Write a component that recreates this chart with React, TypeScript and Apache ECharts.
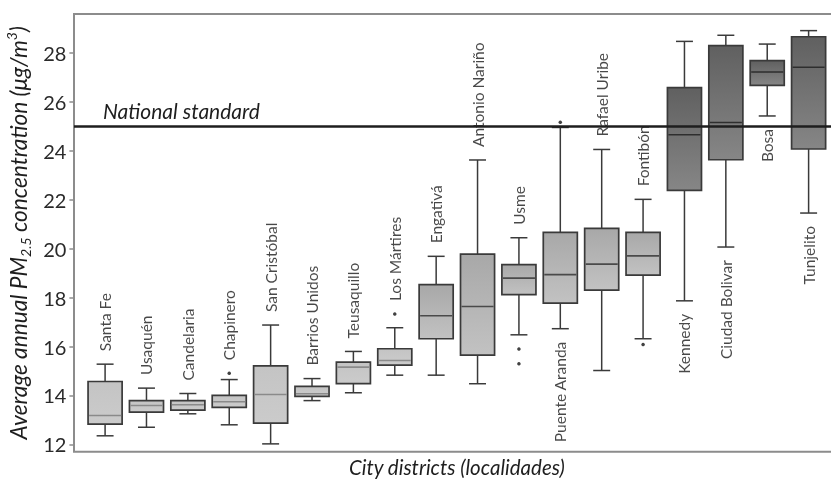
import React, { useEffect, useRef } from "react";
import * as echarts from "echarts";

const CATEGORIES = [
  "Santa Fe", "Usaquén", "Candelaria", "Chapinero", "San Cristóbal", "Barrios Unidos",
  "Teusaquillo", "Los Mártires", "Engativá", "Antonio Nariño", "Usme", "Puente Aranda",
  "Rafael Uribe", "Fontibón", "Kennedy", "Ciudad Bolivar", "Bosa", "Tunjelito",
];
const LOW = [12.35, 12.7, 13.25, 12.8, 12.02, 13.79, 14.11, 14.83, 14.83, 14.48, 16.48, 16.73, 15.02, 16.32, 17.87, 20.07, 25.43, 21.46];
const Q1 = [12.83, 13.32, 13.4, 13.51, 12.87, 13.96, 14.48, 15.24, 16.32, 15.65, 18.12, 17.78, 18.31, 18.92, 22.39, 23.64, 26.68, 24.08];
const MEDIAN = [13.18, 13.59, 13.62, 13.74, 14.04, 14.07, 15.16, 15.43, 17.26, 17.64, 18.8, 18.94, 19.37, 19.71, 24.66, 25.16, 27.23, 27.42];
const Q3 = [14.57, 13.79, 13.79, 14.0, 15.21, 14.37, 15.36, 15.91, 18.53, 19.78, 19.35, 20.67, 20.83, 20.67, 26.59, 28.31, 27.69, 28.67];
const HIGH = [15.28, 14.3, 14.08, 14.65, 16.88, 14.69, 15.8, 16.77, 19.69, 23.63, 20.45, 24.96, 24.06, 22.02, 28.48, 28.73, 28.37, 28.92];
const OUTLIER_CATEGORY = [3, 7, 10, 10, 11, 13];
const OUTLIER_VALUE = [14.91, 17.33, 15.9, 15.3, 25.17, 16.08];
const LABEL_BELOW = ["Puente Aranda", "Kennedy", "Ciudad Bolivar", "Bosa", "Tunjelito"];
const Y_TICKS = [12, 14, 16, 18, 20, 22, 24, 26, 28];
const NATIONAL_STANDARD = 25;

const FONT = "Lato, 'Open Sans', sans-serif";

export default function App() {
  const ref = useRef<HTMLDivElement>(null);

  useEffect(() => {
    if (!ref.current) return;
    const chart = echarts.init(ref.current, null, { renderer: "svg" });

    const tones = [
      { top: "#c4c4c4", bottom: "#cbcbcb", median: "#8a8a8a" },
      { top: "#a8a8a8", bottom: "#c2c2c2", median: "#4a4a4a" },
      { top: "#606060", bottom: "#868686", median: "#2e2e2e" },
    ];
    const toneOf = (i: number) => (i < 8 ? 0 : i < 14 ? 1 : 2);

    const boxData = CATEGORIES.map((_, i) => [i, LOW[i], Q1[i], MEDIAN[i], Q3[i], HIGH[i]]);
    const outlierData = OUTLIER_CATEGORY.map((c, k) => [c, OUTLIER_VALUE[k]]);
    const labelData = CATEGORIES.map((name, i) => {
      const below = LABEL_BELOW.includes(name);
      if (below) {
        return {
          value: [i, LOW[i]],
          name,
          label: { position: "bottom", align: "right" },
        };
      }
      let top = HIGH[i];
      OUTLIER_CATEGORY.forEach((c, k) => {
        if (c === i && OUTLIER_VALUE[k] > top) top = OUTLIER_VALUE[k];
      });
      return { value: [i, top], name, label: { position: "top", align: "left" } };
    });

    const stroke = "#3a3a3a";

    chart.setOption({
      animation: false,
      grid: {
        left: 84.4,
        right: 1.7,
        top: 14,
        bottom: 29.3,
        containLabel: false,
        outerBoundsMode: "none",
      },
      xAxis: {
        type: "category",
        data: CATEGORIES,
        boundaryGap: true,
        axisLine: { show: false },
        axisTick: { show: false },
        axisLabel: { show: false },
        splitLine: { show: false },
        name: "City districts (localidades)",
        nameLocation: "middle",
        nameGap: 5,
        nameTextStyle: {
          fontFamily: FONT,
          fontStyle: "italic",
          fontSize: 20.5,
          lineHeight: 21,
          color: "#1e1e1e",
        },
      },
      yAxis: {
        type: "value",
        min: 11.7,
        max: 29.6,
        offset: 10,
        axisLine: { show: false },
        splitLine: { show: false },
        axisTick: {
          show: true,
          length: 5,
          customValues: Y_TICKS,
          lineStyle: { color: "#8c8c8c", width: 1.5 },
        },
        axisLabel: {
          customValues: Y_TICKS,
          fontFamily: FONT,
          fontSize: 20,
          color: "#2a2a2a",
          margin: 8,
        },
        name:
          "{a|Average annual PM}{sub|2.5}{a| concentration (μg/m}{sup|3}{a|)}",
        nameLocation: "middle",
        nameGap: 35,
        nameTextStyle: {
          rich: {
            a: { fontFamily: FONT, fontStyle: "italic", fontSize: 22.7, color: "#1e1e1e", lineHeight: 28 },
            sub: { fontFamily: FONT, fontStyle: "italic", fontSize: 14, color: "#1e1e1e", lineHeight: 13, verticalAlign: "bottom" },
            sup: { fontFamily: FONT, fontStyle: "italic", fontSize: 14, color: "#1e1e1e", lineHeight: 13, verticalAlign: "top" },
          },
        },
      },
      series: [
        {
          type: "custom",
          data: boxData,
          encode: { x: 0, y: [1, 2, 3, 4, 5] },
          z: 2,
          renderItem: (params: any, api: any) => {
            const i = api.value(0);
            const tone = tones[toneOf(i)];
            const pLow = api.coord([i, api.value(1)]);
            const pQ1 = api.coord([i, api.value(2)]);
            const pMed = api.coord([i, api.value(3)]);
            const pQ3 = api.coord([i, api.value(4)]);
            const pHigh = api.coord([i, api.value(5)]);
            const band = api.size([1, 0])[0];
            const bw = band * 0.823;
            const cap = band * 0.41;
            const x = pMed[0];
            const ls = { stroke, lineWidth: 1.5, fill: "none" };
            return {
              type: "group",
              children: [
                { type: "line", shape: { x1: x, y1: pHigh[1], x2: x, y2: pQ3[1] }, style: ls },
                { type: "line", shape: { x1: x, y1: pQ1[1], x2: x, y2: pLow[1] }, style: ls },
                { type: "line", shape: { x1: x - cap / 2, y1: pHigh[1], x2: x + cap / 2, y2: pHigh[1] }, style: ls },
                { type: "line", shape: { x1: x - cap / 2, y1: pLow[1], x2: x + cap / 2, y2: pLow[1] }, style: ls },
                {
                  type: "rect",
                  shape: { x: x - bw / 2, y: pQ3[1], width: bw, height: pQ1[1] - pQ3[1] },
                  style: {
                    fill: new echarts.graphic.LinearGradient(0, 0, 0, 1, [
                      { offset: 0, color: tone.top },
                      { offset: 1, color: tone.bottom },
                    ]),
                    stroke,
                    lineWidth: 1.7,
                  },
                },
                {
                  type: "line",
                  shape: { x1: x - bw / 2 + 1, y1: pMed[1], x2: x + bw / 2 - 1, y2: pMed[1] },
                  style: { stroke: tone.median, lineWidth: 1.6 },
                },
              ],
            };
          },
        },
        {
          type: "scatter",
          data: outlierData,
          symbol: "circle",
          symbolSize: 3.5,
          itemStyle: { color: "#111" },
          z: 3,
          silent: true,
        },
        {
          type: "scatter",
          data: labelData,
          symbolSize: 0,
          silent: true,
          z: 4,
          label: {
            show: true,
            formatter: (p: any) => p.name,
            rotate: 90,
            distance: 13,
            verticalAlign: "middle",
            fontFamily: FONT,
            fontSize: 15.5,
            color: "#1a1a1a",
          },
        },
      ],
    });

    const yLine = chart.convertToPixel({ yAxisIndex: 0 }, NATIONAL_STANDARD) as number;
    chart.setOption({
      graphic: [
        {
          type: "rect",
          z: 20,
          silent: true,
          shape: { x: 74, y: 14, width: 759, height: 437.7 },
          style: { fill: "none", stroke: "#8c8c8c", lineWidth: 2 },
        },
        {
          type: "line",
          z: 21,
          silent: true,
          shape: { x1: 74, y1: yLine, x2: 831, y2: yLine },
          style: { stroke: "#1e1e1e", lineWidth: 2.6 },
        },
        {
          type: "text",
          z: 21,
          silent: true,
          x: 103,
          y: yLine - 5,
          style: {
            text: "National standard",
            fontFamily: FONT,
            fontStyle: "italic",
            fontSize: 21,
            fill: "#1e1e1e",
            textVerticalAlign: "bottom",
            textAlign: "left",
          },
        },
      ],
    });

    return () => chart.dispose();
  }, []);

  return (
    <div
      ref={ref}
      style={{ position: "fixed", left: 0, top: 0, width: 831, height: 481 }}
    />
  );
}
